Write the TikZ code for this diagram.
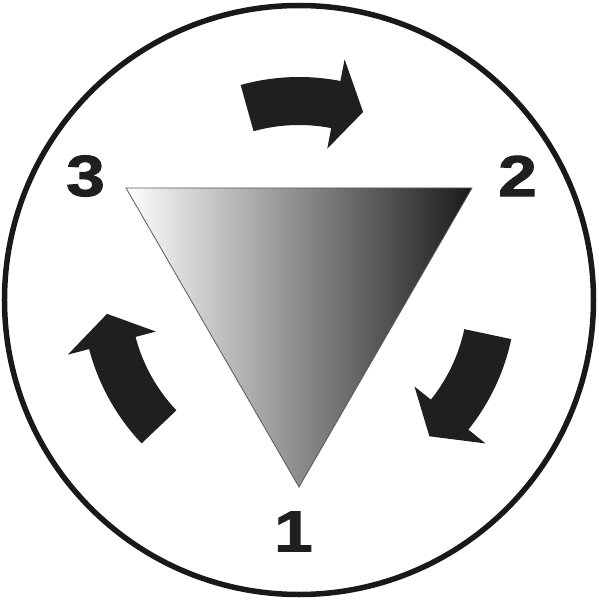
\documentclass[tikz,border=0pt]{standalone}
\usepackage{fontspec}
\setmainfont{Liberation Sans}
\newfontfamily\heavyfont[FakeBold=1.6]{Liberation Sans}
\begin{document}
\begin{tikzpicture}[x=1pt,y=1pt,
	phase/.style={font=\fontsize{58}{58}\selectfont\heavyfont\bfseries, text=black!88, inner sep=0pt},
	turn/.style={fill=black!88, draw=none}]
	\useasboundingbox (-299,-300) rectangle (299,300);
	% Outer ring:
	\draw[line width=5.5pt, black!90] (0,0) circle[radius=294.5];
	% Shaded triangle:
	\coordinate (v3) at (-173,112);
	\coordinate (v2) at (173,112);
	\coordinate (v1) at (0,-187);
	\shadedraw[left color=white, right color=black!90, draw=gray!70!black, line width=0.8pt] (v3) -- (v2) -- (v1) -- cycle;
	% Phase labels:
	\node[phase] (n3) at (-213.5,124){\scalebox{1.2}[1]{3}};
	\node[phase] (n2) at (218.5,124){\scalebox{1.2}[1]{2}};
	\node[phase] (n1) at (-5.5,-231.5){\scalebox{1.2}[1]{1}};
	% Curved arrows, tail/notch/tip angles:
	\begin{scope}[shift={(0,6)}]
		\foreach \tail/\notch/\tip in {105.6/79/70.6, -12/-38.7/-47.5, 223.5/194.7/185.9}
			\fill[turn] (\tail:217) arc[start angle=\tail, end angle=\notch, radius=217] -- (\notch:239) -- (\tip:193) -- (\notch:148) -- (\notch:169) arc[start angle=\notch, end angle=\tail, radius=169] -- cycle;
	\end{scope}
\end{tikzpicture}
\end{document}
